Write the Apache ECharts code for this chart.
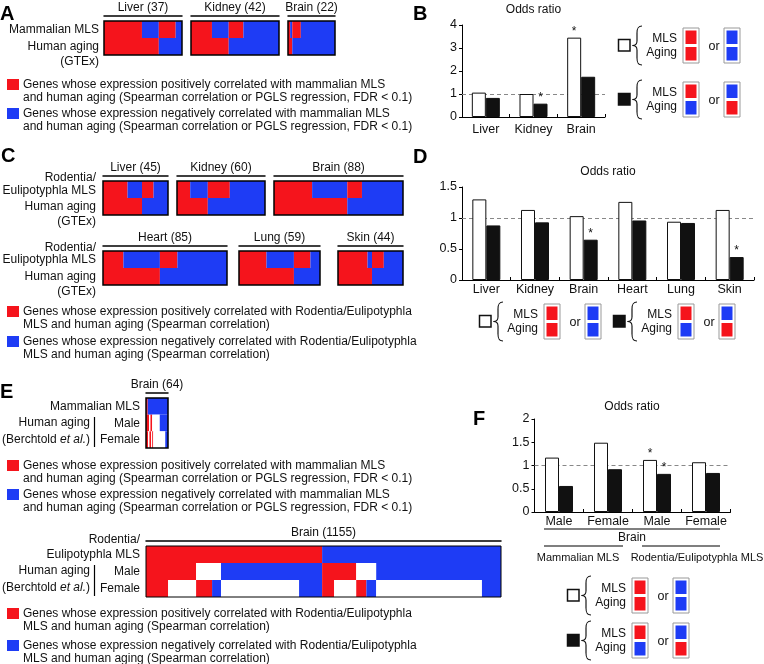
<!DOCTYPE html>
<html><head><meta charset="utf-8">
<script src="https://cdn.jsdelivr.net/npm/echarts@6/dist/echarts.min.js"></script>
<style>html,body{margin:0;padding:0;background:#fff}#c{width:764px;height:664px}</style>
</head><body><div id="c"></div>
<script>
// ================= DATA =================
// Panel A: gene counts per tissue (mammalian MLS vs human aging)
const tissuesA = ['Liver', 'Kidney', 'Brain'];
const totalsA = [37, 42, 22];
const bothPosA = [18, 10, 1];        // MLS + , aging +
const mlsNegAgingPosA = [8, 8, 1];   // MLS - , aging +
const mlsPosAgingNegA = [8, 7, 4];   // MLS + , aging -
const bothNegA = [3, 17, 16];        // MLS - , aging -

// Panel C: Rodentia/Eulipotyphla MLS vs human aging
const tissuesC = ['Liver', 'Kidney', 'Brain', 'Heart', 'Lung', 'Skin'];
const totalsC = [45, 60, 88, 85, 59, 44];
const bothPosC = [17, 9, 26, 14, 20, 20];
const mlsNegAgingPosC = [10, 12, 24, 25, 20, 3];
const mlsPosAgingNegC = [8, 15, 10, 12, 12, 8];
const bothNegC = [10, 24, 28, 34, 7, 13];

// Panel E: segments [colour, gene count] per row (r = positive, b = negative, w = n.s.)
const eSmallTotal = 64;
const eSmallMLS = [['r', 5], ['b', 59]];
const eSmallMale = [['r', 9], ['w', 4], ['r', 5], ['w', 22], ['b', 24]];
const eSmallFemale = [['r', 6], ['w', 4], ['r', 5], ['w', 3], ['r', 3], ['w', 35], ['b', 8]];

const eBigTotal = 1155;
const eBigMLS = [['r', 573], ['b', 582]];
const eBigMale = [['r', 163], ['w', 81], ['b', 329], ['r', 111], ['w', 65], ['b', 406]];
const eBigFemale = [['r', 72], ['w', 91], ['r', 52], ['b', 29], ['w', 254], ['b', 75],
                    ['r', 39], ['w', 72], ['r', 33], ['b', 32], ['w', 344], ['b', 62]];

// Panel B odds ratios
const catsB = ['Liver', 'Kidney', 'Brain'];
const sameB = [1.06, 1.00, 3.45];
const oppB = [0.83, 0.58, 1.75];
const sigSameB = [0, 0, 1];
const sigOppB = [0, 1, 0];
const yMaxB = 4, yStepB = 1;

// Panel D odds ratios
const catsD = ['Liver', 'Kidney', 'Brain', 'Heart', 'Lung', 'Skin'];
const sameD = [1.30, 1.13, 1.03, 1.26, 0.94, 1.13];
const oppD = [0.88, 0.93, 0.65, 0.96, 0.92, 0.37];
const sigSameD = [0, 0, 0, 0, 0, 0];
const sigOppD = [0, 0, 1, 0, 0, 1];
const yMaxD = 1.5, yStepD = 0.5;

// Panel F odds ratios
const catsF = ['Male', 'Female', 'Male', 'Female'];
const sameF = [1.17, 1.49, 1.12, 1.07];
const oppF = [0.56, 0.92, 0.82, 0.84];
const sigSameF = [0, 0, 1, 0];
const sigOppF = [0, 0, 1, 0];
const yMaxF = 2, yStepF = 0.5;

// ================= RENDERING =================
const FONT = 'Arial, "Liberation Sans", Helvetica, sans-serif';
const INK = '#111';
const COLORS = ['#f5141c', '#1e3cf5', '#ffffff'];
const CI = { r: 0, b: 1, w: 2 };

const grids = [], xAxes = [], yAxes = [], series = [];

function segs(rows) {
  const out = [];
  rows.forEach((row, ri) => {
    let x = 0;
    row.forEach(([c, n]) => { out.push([x, x + n, ri, CI[c]]); x += n; });
  });
  return out;
}
function fourWayRows(pp, np, pn, nn) {
  return [
    [['r', pp], ['b', np], ['r', pn], ['b', nn]],
    [['r', pp + np], ['b', pn + nn]]
  ];
}
function renderSeg(params, api) {
  const p0 = api.coord([api.value(0), api.value(2)]);
  const p1 = api.coord([api.value(1), api.value(2)]);
  const h = api.size([0, 1])[1];
  return { type: 'rect', shape: { x: p0[0], y: p0[1] - h / 2, width: p1[0] - p0[0], height: h },
           style: { fill: COLORS[api.value(3)] } };
}
function addHeat(rect, title, total, rows, frameW) {
  const gi = grids.length;
  grids.push({ left: rect[0], top: rect[1], width: rect[2], height: rect[3] });
  xAxes.push({ gridIndex: gi, type: 'value', min: 0, max: total, position: 'top', offset: 5,
    name: title, nameLocation: 'middle', nameGap: 2,
    nameTextStyle: { fontSize: 12, color: INK, fontFamily: FONT },
    axisLine: { show: true, lineStyle: { color: '#000', width: 1.5 } },
    axisTick: { show: false }, axisLabel: { show: false }, splitLine: { show: false } });
  yAxes.push({ gridIndex: gi, type: 'category', data: rows.map((r, i) => 'row' + i), inverse: true, show: false });
  series.push({ type: 'custom', xAxisIndex: gi, yAxisIndex: gi, silent: true,
    data: segs(rows), encode: { x: [0, 1], y: 2 }, renderItem: renderSeg });
  series.push({ type: 'custom', xAxisIndex: gi, yAxisIndex: gi, silent: true, z: 5,
    data: [[0, 0]], encode: { x: 0, y: 1 },
    renderItem: (p) => ({ type: 'rect', shape: { x: p.coordSys.x, y: p.coordSys.y, width: p.coordSys.width, height: p.coordSys.height },
      style: { fill: 'none', stroke: '#000', lineWidth: frameW } }) });
}
function addBars(rect, cats, same, opp, sigS, sigO, yMax, yStep, lblMargin) {
  const gi = grids.length;
  grids.push({ left: rect[0], top: rect[1], width: rect[2], height: rect[3] });
  xAxes.push({ gridIndex: gi, type: 'category', data: cats,
    axisLine: { show: true, lineStyle: { color: '#000', width: 1 } },
    axisTick: { show: true, inside: true, length: 3, lineStyle: { color: '#000' } },
    axisLabel: { color: INK, fontSize: 12.5, fontFamily: FONT, margin: lblMargin, interval: 0 },
    splitLine: { show: false } });
  yAxes.push({ gridIndex: gi, type: 'value', min: 0, max: yMax, interval: yStep,
    axisLine: { show: true, lineStyle: { color: '#000', width: 1 } },
    axisTick: { show: true, length: 3, lineStyle: { color: '#000' } },
    axisLabel: { color: INK, fontSize: 12.5, fontFamily: FONT, margin: 5 },
    splitLine: { show: false } });
  const lbl = { show: false, position: 'top', formatter: '*', distance: 0, fontSize: 12, color: INK, fontFamily: FONT };
  series.push({ type: 'bar', xAxisIndex: gi, yAxisIndex: gi, barWidth: 14, barGap: '0%', z: 3, silent: true,
    data: same.map((v, i) => ({ value: v, label: { show: !!sigS[i] } })), label: lbl,
    itemStyle: { color: '#fff', borderColor: INK, borderWidth: 1 },
    markLine: { silent: true, z: 1, symbol: ['none', 'none'], label: { show: false },
      lineStyle: { color: '#888', type: [4, 3], width: 1 }, data: [{ yAxis: 1 }] } });
  series.push({ type: 'bar', xAxisIndex: gi, yAxisIndex: gi, barWidth: 14, barGap: '0%', z: 3, silent: true,
    data: opp.map((v, i) => ({ value: v, label: { show: !!sigO[i] } })), label: lbl,
    itemStyle: { color: INK, borderColor: INK, borderWidth: 1 } });
}

// Panel A heatmaps
const rectsA = [[104, 21, 78, 34], [191, 21, 88, 34], [288, 21, 47, 34]];
tissuesA.forEach((t, i) => addHeat(rectsA[i], t + ' (' + totalsA[i] + ')', totalsA[i],
  fourWayRows(bothPosA[i], mlsNegAgingPosA[i], mlsPosAgingNegA[i], bothNegA[i]), 1.5));
// Panel C heatmaps
const rectsC = [[103, 181, 65, 34], [177, 181, 88, 34], [274, 181, 129, 34],
                [103, 251, 124, 34], [239, 251, 81, 34], [338, 251, 65, 34]];
tissuesC.forEach((t, i) => addHeat(rectsC[i], t + ' (' + totalsC[i] + ')', totalsC[i],
  fourWayRows(bothPosC[i], mlsNegAgingPosC[i], mlsPosAgingNegC[i], bothNegC[i]), 1.5));
// Panel E heatmaps
addHeat([146, 398, 22, 50], 'Brain (' + eSmallTotal + ')', eSmallTotal, [eSmallMLS, eSmallMale, eSmallFemale], 1.5);
addHeat([146, 546, 355, 51], 'Brain (' + eBigTotal + ')', eBigTotal, [eBigMLS, eBigMale, eBigFemale], 1);

// Bar charts
addBars([462, 25, 143, 92], catsB, sameB, oppB, sigSameB, sigOppB, yMaxB, yStepB, 6);
addBars([462, 187, 292, 93], catsD, sameD, oppD, sigSameD, sigOppD, yMaxD, yStepD, 3);
addBars([534.5, 419, 196, 93], catsF, sameF, oppF, sigSameF, sigOppF, yMaxF, yStepF, 3);

// ---------- graphic helpers ----------
function T(x, y, text, o) {
  return { type: 'text', x: x, y: y, silent: true,
    style: Object.assign({ text: text, fill: INK, fontSize: 12, fontFamily: FONT, align: 'left', verticalAlign: 'middle' }, o || {}) };
}
function R(x, y, w, h, st) { return { type: 'rect', silent: true, shape: { x: x, y: y, width: w, height: h }, style: st }; }
function L(x1, y1, x2, y2, w) { return { type: 'line', silent: true, shape: { x1: x1, y1: y1, x2: x2, y2: y2 }, style: { stroke: '#000', lineWidth: w || 1.2 } }; }
function BZ(x1, y1, c1x, c1y, c2x, c2y, x2, y2) {
  return { type: 'bezierCurve', silent: true,
    shape: { x1: x1, y1: y1, cpx1: c1x, cpy1: c1y, cpx2: c2x, cpy2: c2y, x2: x2, y2: y2 },
    style: { fill: 'none', stroke: INK, lineWidth: 1.1 } };
}
const G = [];
// panel letters
[['A', 0, 14.5], ['B', 413, 14.5], ['C', 1, 156], ['D', 413, 157], ['E', 0, 392], ['F', 473, 419]]
  .forEach(([s, x, y]) => G.push(T(x, y, s, { fontSize: 20, fontWeight: 'bold', fill: '#000' })));

// row labels
function RL(x, y, s) { G.push(T(x, y, s, { align: 'right' })); }
RL(99, 30, 'Mammalian MLS'); RL(99, 47, 'Human aging'); RL(99, 62, '(GTEx)');
RL(96, 178, 'Rodentia/'); RL(96, 191, 'Eulipotyphla MLS'); RL(96, 207, 'Human aging'); RL(96, 222, '(GTEx)');
RL(96, 248, 'Rodentia/'); RL(96, 260, 'Eulipotyphla MLS'); RL(96, 276.5, 'Human aging'); RL(96, 292, '(GTEx)');
const berch = { align: 'right', text: '(Berchtold {i|et al.})', rich: { i: { fontStyle: 'italic', fontSize: 12, fontFamily: FONT, fill: INK } } };
RL(140, 407, 'Mammalian MLS'); RL(140, 423.5, 'Male'); RL(140, 440, 'Female'); RL(90, 423, 'Human aging');
G.push(T(90, 440, '', berch)); G.push(L(94.5, 417, 94.5, 447, 1.2));
RL(140, 540, 'Rodentia/'); RL(140, 555, 'Eulipotyphla MLS'); RL(140, 571.5, 'Male'); RL(140, 588.5, 'Female');
RL(90, 571, 'Human aging'); G.push(T(90, 587.5, '', berch)); G.push(L(94.5, 565, 94.5, 596, 1.2));

// colour legends
function LEG(y, color, l1, l2) {
  G.push(R(7, y, 12, 11, { fill: color }));
  G.push(T(23, y + 5.5, l1)); G.push(T(23, y + 19, l2));
}
const posMam = 'Genes whose expression positively correlated with mammalian MLS';
const negMam = 'Genes whose expression negatively correlated with mammalian MLS';
const mamL2 = 'and human aging (Spearman correlation or PGLS regression, FDR < 0.1)';
const posRod = 'Genes whose expression positively correlated with Rodentia/Eulipotyphla';
const negRod = 'Genes whose expression negatively correlated with Rodentia/Eulipotyphla';
const rodL2 = 'MLS and human aging (Spearman correlation)';
LEG(79, COLORS[0], posMam, mamL2); LEG(108, COLORS[1], negMam, mamL2);
LEG(306, COLORS[0], posRod, rodL2); LEG(336, COLORS[1], negRod, rodL2);
LEG(460, COLORS[0], posMam, mamL2); LEG(489, COLORS[1], negMam, mamL2);
LEG(608, COLORS[0], posRod, rodL2); LEG(640, COLORS[1], negRod, rodL2);

// bar titles
G.push(T(533.5, 10, 'Odds ratio', { align: 'center' }));
G.push(T(608, 172, 'Odds ratio', { align: 'center' }));
G.push(T(632, 407, 'Odds ratio', { align: 'center' }));

// F group annotations
G.push(L(544, 529, 720, 529)); G.push(T(632, 538, 'Brain', { align: 'center' }));
G.push(L(544, 546, 623, 546)); G.push(L(642, 546, 720, 546));
G.push(T(578, 557.5, 'Mammalian MLS', { align: 'center', fontSize: 11 }));
G.push(T(697, 557.5, 'Rodentia/Eulipotyphla MLS', { align: 'center', fontSize: 11 }));

// keys
function KEY(x0, y0, filled) {
  const top = filled ? [COLORS[0], COLORS[1]] : [COLORS[0], COLORS[0]];
  const bot = filled ? [COLORS[1], COLORS[0]] : [COLORS[1], COLORS[1]];
  const ch = [
    R(0.5, 11.5, 11.5, 11.5, { fill: filled ? INK : '#fff', stroke: INK, lineWidth: 1.5 }),
    BZ(24, -2, 19.5, -2, 19, 1, 19, 5),
    L(19, 5, 19, 13, 1.1),
    BZ(19, 13, 19, 16, 17, 17.5, 14.5, 17.5),
    BZ(14.5, 17.5, 17, 17.5, 19, 19, 19, 22),
    L(19, 22, 19, 30, 1.1),
    BZ(19, 30, 19, 34, 19.5, 37, 24, 37),
    T(59, 11, 'MLS', { align: 'right' }),
    T(59, 25, 'Aging', { align: 'right' }),
    T(96, 19, 'or', { align: 'center', fontSize: 12.5 }),
    R(65, 0, 16, 35, { fill: '#fff', stroke: '#999', lineWidth: 1 }),
    R(67.5, 2.5, 11, 13.5, { fill: top[0] }), R(67.5, 19, 11, 13.5, { fill: top[1] }),
    R(106, 0, 16, 35, { fill: '#fff', stroke: '#999', lineWidth: 1 }),
    R(108.5, 2.5, 11, 13.5, { fill: bot[0] }), R(108.5, 19, 11, 13.5, { fill: bot[1] })
  ];
  G.push({ type: 'group', x: x0, y: y0, silent: true, children: ch });
}
KEY(618, 28, false); KEY(618, 82, true);
KEY(479, 304, false); KEY(613, 304, true);
KEY(567, 578, false); KEY(567, 623, true);

const chart = echarts.init(document.getElementById('c'), null, { renderer: 'canvas' });
chart.setOption({
  animation: false,
  backgroundColor: '#fff',
  textStyle: { fontFamily: FONT },
  grid: grids, xAxis: xAxes, yAxis: yAxes, series: series,
  graphic: { elements: G }
});
</script></body></html>
